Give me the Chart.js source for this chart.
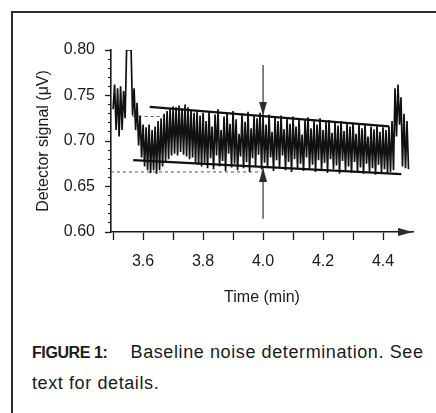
<!DOCTYPE html>
<html>
<head>
<meta charset="utf-8">
<script src="https://cdn.jsdelivr.net/npm/chart.js@4.4.1/dist/chart.umd.min.js"></script>
<style>
body { margin: 0; background: #fff; }
#page { position: relative; width: 436px; height: 413px; overflow: hidden; background: #fff; font-family: "Liberation Sans", Arial, sans-serif; color: #1a1a1a; }
#frame { position: absolute; left: 11px; top: 11px; width: 440px; height: 420px; border-left: 2px solid #2b2b2b; border-top: 2px solid #2b2b2b; }
#chartBox { position: absolute; left: 0; top: 0; width: 436px; height: 320px; }
#caption { position: absolute; left: 32px; top: 337px; font-size: 18px; letter-spacing: 0.6px; line-height: 30px; white-space: nowrap; }
#caption b { font-size: 16px; letter-spacing: -0.4px; margin-right: 23px; }
</style>
</head>
<body>
<div id="page">
  <div id="frame"></div>
  <div id="chartBox"><canvas id="noiseChart"></canvas></div>
  <div id="caption"><b>FIGURE 1:</b>Baseline noise determination. See<br>text for details.</div>
</div>
<script>
// sample times (min)
var times = [
3.500,3.505,3.510,3.515,3.520,3.525,3.530,3.535,3.540,3.545,
3.550,3.555,3.560,3.565,3.570,3.575,3.580,3.585,3.590,3.595,
3.600,3.605,3.610,3.615,3.620,3.625,3.630,3.635,3.640,3.645,
3.650,3.655,3.660,3.665,3.670,3.675,3.680,3.685,3.690,3.695,
3.700,3.705,3.710,3.715,3.720,3.725,3.730,3.735,3.740,3.745,
3.750,3.755,3.760,3.765,3.770,3.775,3.780,3.785,3.790,3.795,
3.800,3.805,3.810,3.815,3.820,3.825,3.830,3.835,3.840,3.845,
3.850,3.855,3.860,3.865,3.870,3.875,3.880,3.885,3.890,3.895,
3.900,3.905,3.910,3.915,3.920,3.925,3.930,3.935,3.940,3.945,
3.950,3.955,3.960,3.965,3.970,3.975,3.980,3.985,3.990,3.995,
4.000,4.005,4.010,4.015,4.020,4.025,4.030,4.035,4.040,4.045,
4.050,4.055,4.060,4.065,4.070,4.075,4.080,4.085,4.090,4.095,
4.100,4.105,4.110,4.115,4.120,4.125,4.130,4.135,4.140,4.145,
4.150,4.155,4.160,4.165,4.170,4.175,4.180,4.185,4.190,4.195,
4.200,4.205,4.210,4.215,4.220,4.225,4.230,4.235,4.240,4.245,
4.250,4.255,4.260,4.265,4.270,4.275,4.280,4.285,4.290,4.295,
4.300,4.305,4.310,4.315,4.320,4.325,4.330,4.335,4.340,4.345,
4.350,4.355,4.360,4.365,4.370,4.375,4.380,4.385,4.390,4.395,
4.400,4.405,4.410,4.415,4.420,4.425,4.430,4.435,4.440,4.445,
4.450,4.455,4.460,4.465,4.470,4.475,4.480,4.485
];
// detector signal (uV)
var signal = [
0.735,0.762,0.712,0.758,0.705,0.760,0.712,0.755,0.725,0.800,
0.800,0.800,0.800,0.728,0.758,0.712,0.742,0.695,0.728,0.682,
0.718,0.672,0.715,0.668,0.718,0.665,0.712,0.668,0.716,0.664,
0.722,0.668,0.725,0.672,0.730,0.678,0.733,0.680,0.736,0.684,
0.738,0.686,0.737,0.684,0.739,0.688,0.736,0.685,0.740,0.683,
0.737,0.680,0.734,0.682,0.731,0.676,0.733,0.674,0.728,0.672,
0.731,0.676,0.722,0.670,0.733,0.681,0.716,0.669,0.729,0.684,
0.735,0.672,0.712,0.678,0.727,0.667,0.731,0.686,0.719,0.671,
0.733,0.675,0.724,0.668,0.708,0.683,0.730,0.670,0.721,0.677,
0.732,0.666,0.714,0.681,0.728,0.672,0.725,0.685,0.731,0.669,
0.727,0.676,0.718,0.670,0.729,0.682,0.710,0.667,0.726,0.679,
0.722,0.671,0.728,0.684,0.713,0.668,0.725,0.677,0.719,0.666,
0.727,0.680,0.716,0.670,0.724,0.675,0.707,0.667,0.723,0.682,
0.726,0.669,0.714,0.674,0.722,0.666,0.718,0.679,0.725,0.668,
0.712,0.676,0.721,0.665,0.723,0.680,0.709,0.669,0.720,0.673,
0.717,0.664,0.722,0.678,0.711,0.667,0.719,0.672,0.716,0.665,
0.720,0.677,0.708,0.666,0.718,0.671,0.714,0.664,0.719,0.675,
0.705,0.666,0.716,0.670,0.713,0.663,0.717,0.674,0.710,0.665,
0.715,0.669,0.712,0.664,0.716,0.666,0.722,0.668,0.758,0.705,
0.762,0.718,0.748,0.672,0.730,0.670,0.722,0.669
];

// envelope lines round the noise band
var upperX = [3.622, 4.420];
var upperY = [0.7375, 0.716];
var lowerX = [3.567, 4.461];
var lowerY = [0.679, 0.6635];
// dashed reference levels
var dashHighX = [3.565, 3.670];
var dashHighY = [0.727, 0.727];
var dashLowX = [3.493, 4.000];
var dashLowY = [0.666, 0.666];
// arrows at t = 4.0
var downX = [4.0, 4.0];
var downY = [0.7835, 0.728];
var upX = [4.0, 4.0];
var upY = [0.6145, 0.6705];

var xTicks = [3.5, 3.6, 3.7, 3.8, 3.9, 4.0, 4.1, 4.2, 4.3, 4.4];
var xLabels = [3.6, 3.8, 4.0, 4.2, 4.4];
var yTicks = [0.60, 0.65, 0.70, 0.75, 0.80];
var yMinorTicks = [0.60,0.61,0.62,0.63,0.64,0.65,0.66,0.67,0.68,0.69,0.70,0.71,0.72,0.73,0.74,0.75,0.76,0.77,0.78,0.79,0.80];

var ink = '#1a1a1a';
var fontFam = '"Liberation Sans", Arial, sans-serif';

function pts(xs, ys) {
    return xs.map(function(x, i) { return {x: x, y: ys[i]}; });
}

// small arrow head, tip at the centre of the image
function makeArrowHead(len, wid) {
    var c = document.createElement('canvas');
    c.width = len * 2;
    c.height = wid;
    var g = c.getContext('2d');
    g.fillStyle = '#2a2a2a';
    g.beginPath();
    g.moveTo(0, 0);
    g.lineTo(len, wid / 2);
    g.lineTo(0, wid);
    g.closePath();
    g.fill();
    return c;
}
var headAxis = makeArrowHead(15, 8);
var headMark = makeArrowHead(14, 8);

function tickSet(list) {
    return function(scale) {
        scale.ticks = list.map(function(v) { return {value: v}; });
    };
}

var ctx = document.getElementById('noiseChart').getContext('2d');
var noiseChart = new Chart(ctx, {
    type: 'line',
    data: {
        datasets: [
            {
                data: pts(times, signal),
                borderColor: '#111',
                borderWidth: 1.7,
                pointRadius: 0,
                tension: 0
            },
            {
                data: pts(upperX, upperY),
                borderColor: '#111',
                borderWidth: 2.3,
                pointRadius: 0
            },
            {
                data: pts(lowerX, lowerY),
                borderColor: '#111',
                borderWidth: 2.3,
                pointRadius: 0
            },
            {
                data: pts(dashHighX, dashHighY),
                borderColor: '#555',
                borderWidth: 1,
                borderDash: [3, 3],
                pointRadius: 0
            },
            {
                data: pts(dashLowX, dashLowY),
                borderColor: '#555',
                borderWidth: 1,
                borderDash: [3, 3],
                pointRadius: 0
            },
            {
                data: pts(downX, downY),
                borderColor: '#333',
                borderWidth: 1.2,
                pointRadius: [0, 5],
                pointStyle: headMark,
                pointRotation: 90
            },
            {
                data: pts(upX, upY),
                borderColor: '#333',
                borderWidth: 1.2,
                pointRadius: [0, 5],
                pointStyle: headMark,
                pointRotation: -90
            },
            {
                data: [{x: 4.5, y: 0.60}],
                showLine: false,
                pointRadius: 5,
                pointStyle: headAxis,
                clip: false
            }
        ]
    },
    options: {
        responsive: true,
        maintainAspectRatio: false,
        animation: false,
        layout: { padding: { top: 50, right: 23, left: 0, bottom: 0 } },
        plugins: {
            legend: { display: false },
            tooltip: { enabled: false }
        },
        scales: {
            x: {
                type: 'linear',
                min: 3.493,
                max: 4.5,
                afterFit: function(s) { s.height = 88; },
                afterBuildTicks: tickSet(xTicks),
                ticks: {
                    autoSkip: false,
                    maxRotation: 0,
                    padding: 12,
                    color: ink,
                    font: { family: fontFam, size: 16 },
                    callback: function(v) { return xLabels.indexOf(v) >= 0 ? v.toFixed(1) : ''; }
                },
                grid: { drawOnChartArea: false, tickLength: 8, tickColor: ink, tickWidth: 1.3 },
                border: { color: ink, width: 1.6 },
                title: {
                    display: true,
                    text: 'Time (min)',
                    color: ink,
                    font: { family: fontFam, size: 16 },
                    padding: { top: 0, bottom: 13 }
                }
            },
            y: {
                type: 'linear',
                position: 'left',
                weight: 1,
                min: 0.6,
                max: 0.8,
                afterFit: function(s) { s.width = 111; },
                afterBuildTicks: tickSet(yTicks),
                ticks: {
                    padding: 10,
                    color: ink,
                    font: { family: fontFam, size: 16 },
                    callback: function(v) { return v.toFixed(2); }
                },
                grid: { drawOnChartArea: false, tickLength: 6, tickColor: ink, tickWidth: 1.3 },
                border: { color: ink, width: 1.6 },
                title: {
                    display: true,
                    text: 'Detector signal (μV)',
                    color: ink,
                    font: { family: fontFam, size: 16 },
                    padding: { top: 34, bottom: 0 }
                }
            },
            yMinor: {
                type: 'linear',
                position: 'left',
                weight: 0,
                min: 0.6,
                max: 0.8,
                afterFit: function(s) { s.width = 0; },
                afterBuildTicks: tickSet(yMinorTicks),
                ticks: { display: false },
                grid: { drawOnChartArea: false, tickLength: 3, tickColor: ink, tickWidth: 1.1 },
                border: { display: false }
            }
        }
    }
});
</script>
</body>
</html>
